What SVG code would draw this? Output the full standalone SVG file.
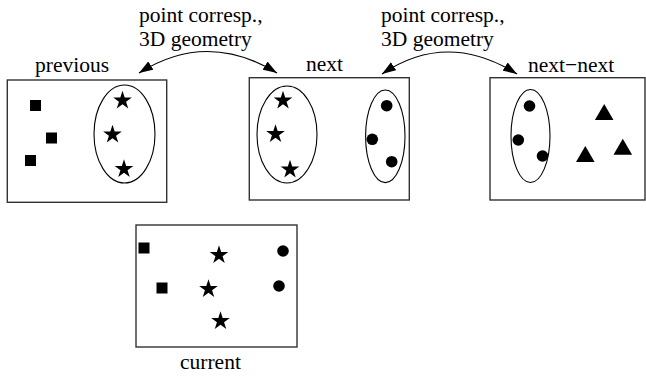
<svg xmlns="http://www.w3.org/2000/svg" width="646" height="377" viewBox="0 0 646 377">
<style>
.box{fill:#fff;stroke:#333;stroke-width:1.4}
.ell{fill:none;stroke:#000;stroke-width:1.1}
.lbl{font-family:"Liberation Serif","Times New Roman",serif;font-size:21.5px;fill:#000}
.con{fill:none;stroke:#000;stroke-width:1.2}
</style>
<defs>
<polygon id="star" points="0,-9.8 2.2,-3.03 9.32,-3.03 3.56,1.16 5.76,7.93 0,3.74 -5.76,7.93 -3.56,1.16 -9.32,-3.03 -2.2,-3.03" fill="#000"/>
<rect id="sq" x="-5.5" y="-5.5" width="11" height="11" fill="#000"/>
<circle id="dot" r="5.8" fill="#000"/>
<polygon id="tri" points="0,-8 9.3,8 -9.3,8" fill="#000"/>
<marker id="ah" viewBox="-14 -5 14 10" refX="0" refY="0" markerWidth="14" markerHeight="10" markerUnits="userSpaceOnUse" orient="auto-start-reverse">
<path d="M0,0 L-14,-4.8 L-14,4.8 z" fill="#000"/>
</marker>
</defs>
<g id="previous">
<rect class="box" x="7.3" y="80" width="159.4" height="122.3"/>
<ellipse class="ell" cx="124.5" cy="134" rx="30.5" ry="49"/>
<use href="#sq" x="35.5" y="105.5"/>
<use href="#sq" x="51.5" y="138"/>
<use href="#sq" x="30.5" y="160.5"/>
<use href="#star" x="122.5" y="100.5"/>
<use href="#star" x="112.5" y="134.5"/>
<use href="#star" x="124" y="169"/>
<text class="lbl" x="35" y="72">previous</text>
</g>
<g id="next">
<rect class="box" x="249.3" y="77.7" width="160" height="122.3"/>
<ellipse class="ell" cx="287" cy="134.5" rx="30" ry="48.5"/>
<ellipse class="ell" cx="385.3" cy="136.3" rx="19.7" ry="46.3"/>
<use href="#star" x="283" y="100.5"/>
<use href="#star" x="275.5" y="134"/>
<use href="#star" x="290" y="169.5"/>
<use href="#dot" x="386.7" y="105.7"/>
<use href="#dot" x="372.3" y="139.3"/>
<use href="#dot" x="391.7" y="161.7"/>
<text class="lbl" x="306" y="71">next</text>
</g>
<g id="next-next">
<rect class="box" x="490" y="77.7" width="155" height="122.3"/>
<ellipse class="ell" cx="530.5" cy="136" rx="19.5" ry="46.5"/>
<use href="#dot" x="529.5" y="106"/>
<use href="#dot" x="518.3" y="140"/>
<use href="#dot" x="542.5" y="156"/>
<use href="#tri" x="604.2" y="112"/>
<use href="#tri" x="585.3" y="154"/>
<use href="#tri" x="622.8" y="146.7"/>
<text class="lbl" x="528" y="72">next−next</text>
</g>
<g id="current">
<rect class="box" x="136" y="225" width="161" height="122"/>
<use href="#sq" x="144" y="248"/>
<use href="#sq" x="162" y="288"/>
<use href="#star" x="219" y="255"/>
<use href="#star" x="208.5" y="289"/>
<use href="#star" x="220.5" y="321"/>
<use href="#dot" x="283" y="251"/>
<use href="#dot" x="279" y="286"/>
<text class="lbl" x="180" y="369">current</text>
</g>
<g id="connectors">
<path class="con" d="M139,73 Q207,30 277,73" marker-start="url(#ah)" marker-end="url(#ah)"/>
<path class="con" d="M382,74 Q447,30 517,74" marker-start="url(#ah)" marker-end="url(#ah)"/>
<text class="lbl" x="139" y="22">point corresp.,</text>
<text class="lbl" x="139" y="46">3D geometry</text>
<text class="lbl" x="381" y="22">point corresp.,</text>
<text class="lbl" x="381" y="46">3D geometry</text>
</g>
</svg>
